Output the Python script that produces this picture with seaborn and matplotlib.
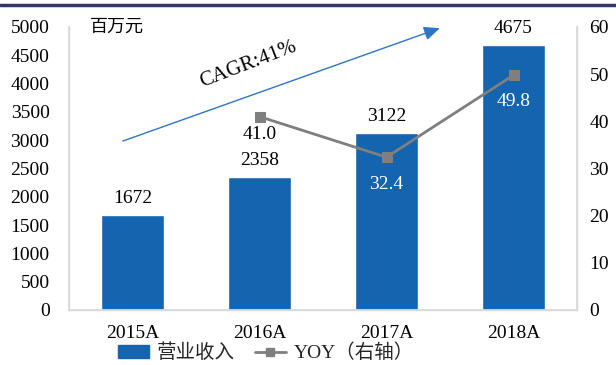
import matplotlib
matplotlib.use("Agg")
import matplotlib.pyplot as plt
import seaborn as sns
import numpy as np
from matplotlib.lines import Line2D
from matplotlib.patches import Patch

categories = ["2015A", "2016A", "2017A", "2018A"]
revenue = [1672, 2358, 3122, 4675]
yoy = [np.nan, 41.0, 32.4, 49.8]
left_ticks = [0, 500, 1000, 1500, 2000, 2500, 3000, 3500, 4000, 4500, 5000]
right_ticks = [0, 10, 20, 30, 40, 50, 60]
unit_label = "百万元"
cagr_label = "CAGR:41%"
legend_labels = ["营业收入", "YOY（右轴）"]

sns.set_theme(style="white")
serif = ["Liberation Serif", "Noto Sans CJK SC"]
cjk = ["Noto Sans CJK SC", "Liberation Serif"]
plt.rcParams["font.family"] = serif

BAR = "#1464B0"
GRAY = "#7F7F7F"
SPINE = "#D9D9D9"
FS = 14

fig = plt.figure(figsize=(6.16, 3.65), dpi=100)
ax = fig.add_axes([69 / 616, 1 - 310 / 365, 508 / 616, 283 / 365])

sns.barplot(x=categories, y=revenue, color=BAR, saturation=1, width=0.5, ax=ax)
ax.set_xlim(-0.5, 3.5)
ax.set_ylim(0, 5000)
ax.set_yticks(left_ticks)
ax.set_ylabel("")
ax.set_xlabel("")
ax.tick_params(axis="y", length=0, pad=14, labelsize=FS, colors="black")
ax.tick_params(axis="x", length=0, pad=11, labelsize=FS, colors="black")
for s in ["left", "bottom", "right"]:
    ax.spines[s].set_color(SPINE)
    ax.spines[s].set_linewidth(1)
ax.spines["top"].set_visible(False)

for i, v in enumerate(revenue):
    ax.annotate(f"{v}", (i, v), xytext=(0, 8), textcoords="offset pixels",
                ha="center", va="bottom", fontsize=FS, color="black")

ax2 = ax.twinx()
xpos = [categories.index(c) for c in categories]
sns.lineplot(x=xpos, y=yoy, color=GRAY, linewidth=2, marker="s", markersize=7,
             markeredgecolor=GRAY, markerfacecolor=GRAY, ax=ax2)
ax2.set_ylim(0, 60)
ax2.set_yticks(right_ticks)
ax2.set_xlim(-0.5, 3.5)
ax2.tick_params(axis="y", length=0, pad=9, labelsize=FS, colors="black")
for s in ["left", "bottom", "right"]:
    ax2.spines[s].set_color(SPINE)
ax2.spines["top"].set_visible(False)
ax2.grid(False)
ax.grid(False)

offsets = [0, -18, -27, -26]
colors = ["black", "black", "white", "white"]
for i, v in enumerate(yoy):
    if np.isnan(v):
        continue
    ax2.annotate(f"{v:.1f}", (i, v), xytext=(0, offsets[i]), textcoords="offset pixels",
                 ha="center", va="center", fontsize=FS, color=colors[i])

# CAGR arrow
ax.annotate("", xy=(0.730, 0.996), xytext=(0.106, 0.597), xycoords="axes fraction",
            textcoords="axes fraction",
            arrowprops=dict(arrowstyle="-|>,head_length=0.8,head_width=0.35",
                            color="#2E75C6", lw=1, shrinkA=0, shrinkB=0))
ax.text(0.352, 0.869, cagr_label, transform=ax.transAxes, rotation=21,
        ha="center", va="center", fontsize=15, color="black")
ax.text(0.094, 1.0, unit_label, transform=ax.transAxes, ha="center", va="center",
        fontsize=13, family=cjk, color="black")

# legend
handles = [Patch(facecolor=BAR, edgecolor=BAR),
           Line2D([0], [0], color=GRAY, lw=2, marker="s", markersize=6)]
leg = fig.legend(handles, legend_labels, loc="center", bbox_to_anchor=(266 / 616, 1 - 353 / 365),
                 ncol=2, frameon=False, prop={"family": serif, "size": FS},
                 handlelength=1.6, columnspacing=1.0, handletextpad=0.4,
                 borderpad=0.1)

# top rule
fig.add_artist(Line2D([0, 1], [1 - 5 / 365, 1 - 5 / 365], transform=fig.transFigure,
                      color="#35356A", lw=2.5))

fig.savefig("out.png", dpi=100)
